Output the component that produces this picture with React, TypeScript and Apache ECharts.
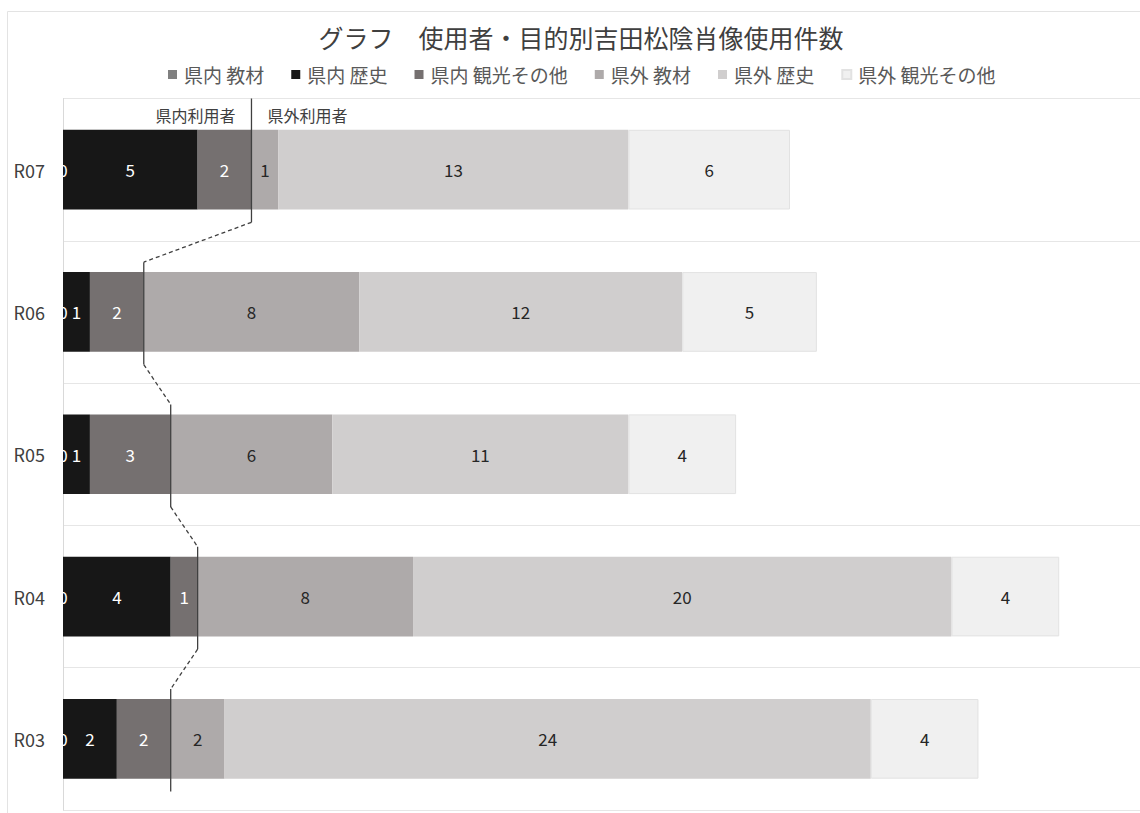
import React, { useEffect, useRef } from "react";
import * as echarts from "echarts";

const categories = ["R07", "R06", "R05", "R04", "R03"];
const seriesNames = ["県内 教材", "県内 歴史", "県内 観光その他", "県外 教材", "県外 歴史", "県外 観光その他"];
const kennaiKyozai = [0, 0, 0, 0, 0];
const kennaiRekishi = [5, 1, 1, 4, 2];
const kennaiKanko = [2, 2, 3, 1, 2];
const kengaiKyozai = [1, 8, 6, 8, 2];
const kengaiRekishi = [13, 12, 11, 20, 24];
const kengaiKanko = [6, 5, 4, 4, 4];
const seriesColors = ["#808080", "#171717", "#757070", "#aeaaaa", "#d0cece", "#f0f0f0"];
const labelColors = ["#ffffff", "#ffffff", "#ffffff", "#262626", "#262626", "#262626"];
const innerLabel = "県内利用者";
const outerLabel = "県外利用者";

const FONT = "'Noto Sans CJK JP', 'Noto Sans', sans-serif";

export default function App() {
  const ref = useRef<HTMLDivElement>(null);
  useEffect(() => {
    if (!ref.current) return;
    const chart = echarts.init(ref.current, undefined, { renderer: "svg" });
    const values = [kennaiKyozai, kennaiRekishi, kennaiKanko, kengaiKyozai, kengaiRekishi, kengaiKanko];
    const inner = categories.map((_, i) => kennaiKyozai[i] + kennaiRekishi[i] + kennaiKanko[i]);
    const lineData = categories.map((_, i) => [inner[i], i, i + 1 < categories.length ? inner[i + 1] : -1]);

    const barSeries = values.map((arr, k) => ({
      name: seriesNames[k],
      type: "bar",
      stack: "total",
      barWidth: "56%",
      data: arr,
      itemStyle: {
        color: seriesColors[k],
        borderColor: k === 5 ? "#e2e2e2" : undefined,
        borderWidth: k === 5 ? 1 : 0,
      },
      label: {
        show: true,
        position: "inside",
        color: labelColors[k],
        fontSize: 17,
        fontFamily: FONT,
      },
      emphasis: { disabled: true },
    }));

    const customSeries = {
      type: "custom",
      silent: true,
      z: 10,
      clip: false,
      encode: { x: 0, y: 1 },
      data: lineData,
      renderItem: (params: any, api: any) => {
        const x = api.value(0);
        const idx = api.value(1);
        const next = api.value(2);
        const p = api.coord([x, idx]);
        const band = api.size([0, 1])[1];
        const top = idx === 0 ? p[1] - band / 2 : p[1] - band * 0.35;
        const bottom = p[1] + band * 0.37;
        const children: any[] = [
          {
            type: "line",
            shape: { x1: p[0], y1: top, x2: p[0], y2: bottom },
            style: { stroke: "#404040", lineWidth: 1.3 },
          },
        ];
        if (next >= 0) {
          const q = api.coord([next, idx + 1]);
          children.push({
            type: "line",
            shape: { x1: p[0], y1: bottom, x2: q[0], y2: q[1] - band * 0.35 },
            style: { stroke: "#404040", lineWidth: 1.3, lineDash: [4, 3] },
          });
        }
        if (idx === 0) {
          children.push({
            type: "text",
            style: {
              text: innerLabel,
              x: p[0] - 16,
              y: top + 16,
              align: "right",
              verticalAlign: "middle",
              fill: "#404040",
              fontSize: 16,
              fontFamily: FONT,
            },
          });
          children.push({
            type: "text",
            style: {
              text: outerLabel,
              x: p[0] + 16,
              y: top + 16,
              align: "left",
              verticalAlign: "middle",
              fill: "#404040",
              fontSize: 16,
              fontFamily: FONT,
            },
          });
        }
        return { type: "group", children };
      },
    };

    chart.setOption({
      animation: false,
      textStyle: { fontFamily: FONT },
      title: {
        text: "グラフ　使用者・目的別吉田松陰肖像使用件数",
        left: 576,
        top: 19,
        textAlign: "center",
        textStyle: { fontSize: 25, fontWeight: "normal", color: "#3f3f3f", fontFamily: FONT },
      },
      legend: {
        data: seriesNames,
        left: 163,
        top: 60,
        padding: 5,
        itemWidth: 9,
        itemHeight: 9,
        itemGap: 27,
        icon: "rect",
        selectedMode: false,
        textStyle: { fontSize: 19, color: "#595959", fontFamily: FONT, padding: [0, 0, 0, 2] },
      },
      graphic: [
        {
          type: "rect",
          z: -10,
          silent: true,
          shape: { x: 7.5, y: 11.5, width: 1300, height: 1000 },
          style: { fill: "none", stroke: "#e3e3e3", lineWidth: 1 },
        },
      ],
      grid: { left: 63, top: 98.5, width: 1080, height: 711.5, containLabel: false },
      xAxis: {
        type: "value",
        min: 0,
        max: 40,
        show: false,
        splitLine: { show: false },
      },
      yAxis: {
        type: "category",
        data: categories,
        inverse: true,
        axisLine: { show: true, lineStyle: { color: "#d9d9d9" } },
        axisTick: { show: false },
        splitLine: { show: true, lineStyle: { color: "#e6e6e6", width: 1 } },
        axisLabel: { fontSize: 18, color: "#404040", margin: 18, fontFamily: FONT },
      },
      series: [...barSeries, customSeries],
    });
    return () => chart.dispose();
  }, []);
  return (
    <div
      ref={ref}
      style={{ position: "fixed", left: 0, top: 0, width: 1140, height: 813, background: "#ffffff" }}
    />
  );
}
